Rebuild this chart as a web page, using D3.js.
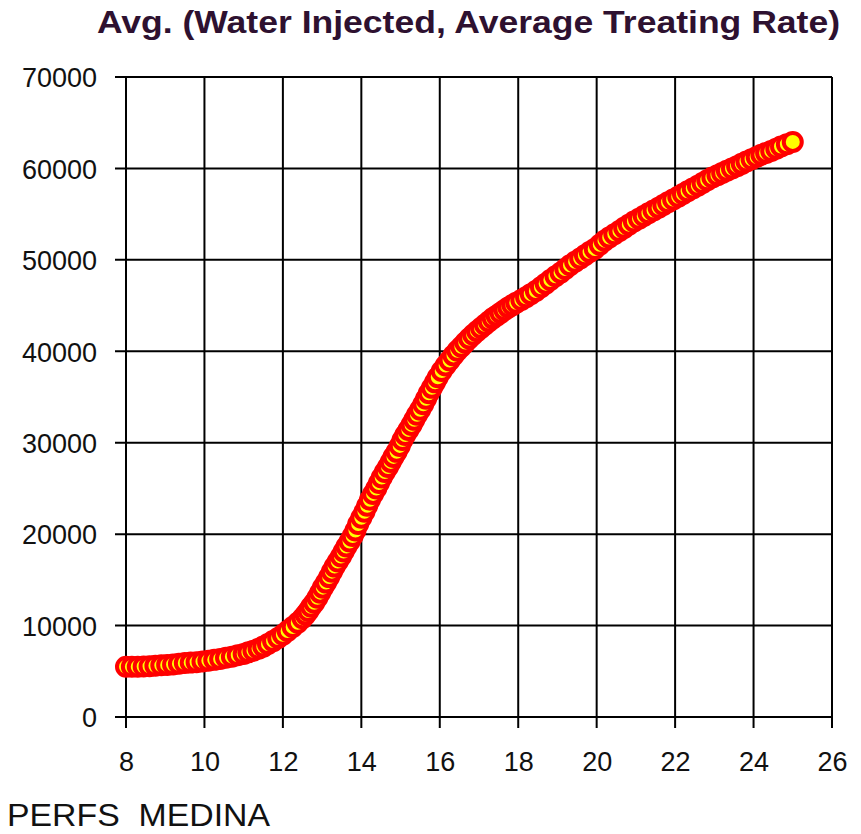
<!DOCTYPE html>
<html>
<head>
<meta charset="utf-8">
<script src="https://cdn.jsdelivr.net/npm/d3@7"></script>
<style>
  body { margin: 0; background: #fff; }
  svg { display: block; }
</style>
</head>
<body>
<div id="chart"></div>
<script>
// Chart data
var titleText = "Avg. (Water Injected, Average Treating Rate)";
var footerText = "PERFS  MEDINA";

var xTicks = [8, 10, 12, 14, 16, 18, 20, 22, 24, 26];
var yTicks = [0, 10000, 20000, 30000, 40000, 50000, 60000, 70000];

var perfX = [
  8.0, 8.15, 8.3, 8.45, 8.6, 8.75, 8.9, 9.05, 9.2, 9.35, 9.5, 9.65, 9.8, 9.95,
  10.1, 10.25, 10.4, 10.55, 10.7, 10.85, 11.0,
  11.12, 11.25, 11.38, 11.5, 11.62, 11.75, 11.88, 12.0, 12.12, 12.25, 12.38, 12.5,
  12.58, 12.65, 12.72, 12.8, 12.88, 12.95, 13.02, 13.1, 13.18, 13.25, 13.32, 13.4,
  13.48, 13.55, 13.62, 13.7, 13.78, 13.85, 13.92, 14.0, 14.08, 14.15, 14.22, 14.3,
  14.38, 14.45, 14.52, 14.6, 14.68, 14.75, 14.82, 14.9, 14.98, 15.05, 15.12, 15.2,
  15.28, 15.35, 15.42, 15.5, 15.58, 15.65, 15.72, 15.8, 15.88, 15.95,
  16.05, 16.15, 16.25, 16.35, 16.45, 16.55, 16.65, 16.75, 16.85, 16.95,
  17.05, 17.15, 17.25, 17.35, 17.45, 17.55, 17.65, 17.75, 17.85, 17.95,
  18.08, 18.2, 18.32, 18.45, 18.58, 18.7, 18.82, 18.95,
  19.08, 19.2, 19.32, 19.45, 19.58, 19.7, 19.82, 19.95,
  20.08, 20.2, 20.32, 20.45, 20.58, 20.7, 20.82, 20.95,
  21.08, 21.2, 21.32, 21.45, 21.58, 21.7, 21.82, 21.95,
  22.08, 22.2, 22.32, 22.45, 22.58, 22.7, 22.82, 22.95,
  23.08, 23.2, 23.32, 23.45, 23.58, 23.7, 23.82, 23.95,
  24.08, 24.2, 24.32, 24.45, 24.58, 24.7, 24.85, 25.0
];
var waterInjected = [
  5500, 5500, 5500, 5520, 5550, 5600, 5650, 5700, 5750, 5820, 5900, 5950, 6000, 6080,
  6150, 6250, 6350, 6470, 6600, 6750, 6900,
  7070, 7250, 7470, 7700, 7990, 8300, 8640, 9000, 9400, 9850, 10300, 10800,
  11200, 11600, 12050, 12500, 13050, 13600, 14150, 14700, 15300, 15900, 16450, 17000,
  17550, 18100, 18650, 19200, 19800, 20400, 21100, 21800, 22450, 23100, 23750, 24400,
  25000, 25600, 26200, 26800, 27350, 27900, 28450, 29000, 29650, 30300, 30850, 31400,
  31950, 32500, 33050, 33600, 34200, 34800, 35400, 36000, 36600, 37150,
  37850, 38450, 39000, 39550, 40050, 40500, 40950, 41400, 41800, 42200,
  42550, 42900, 43250, 43600, 43900, 44200, 44500, 44800, 45050, 45300,
  45600, 45900, 46250, 46600, 47000, 47400, 47800, 48200,
  48600, 49000, 49400, 49800, 50150, 50500, 50850, 51200,
  51650, 52100, 52450, 52800, 53150, 53500, 53850, 54200,
  54500, 54800, 55100, 55400, 55700, 56000, 56300, 56600,
  56900, 57200, 57500, 57800, 58100, 58400, 58700, 59000,
  59250, 59500, 59750, 60000, 60250, 60500, 60750, 61000,
  61250, 61500, 61700, 61900, 62150, 62400, 62650, 62900
];

var points = perfX.map(function(x, i) { return { x: x, y: waterInjected[i] }; });

// Canvas
var W = 861, H = 834;
var margin = { top: 77, right: 29, bottom: 117, left: 126 },
    width = W - margin.left - margin.right,
    height = H - margin.top - margin.bottom;

var svg = d3.select("#chart")
  .append("svg")
    .attr("width", W)
    .attr("height", H);

var g = svg.append("g")
    .attr("transform", "translate(" + margin.left + "," + margin.top + ")");

// Scales
var x = d3.scaleLinear().domain([8, 26]).range([0, width]);
var y = d3.scaleLinear().domain([0, 70000]).range([height, 0]);

// Grid lines (ticks stick out past the axes)
var tickLen = 11;
g.append("g")
  .selectAll("line")
  .data(xTicks)
  .enter().append("line")
    .attr("x1", function(d) { return x(d); })
    .attr("x2", function(d) { return x(d); })
    .attr("y1", 0)
    .attr("y2", height + tickLen)
    .attr("stroke", "#000")
    .attr("stroke-width", 2);

g.append("g")
  .selectAll("line")
  .data(yTicks)
  .enter().append("line")
    .attr("x1", -tickLen)
    .attr("x2", width)
    .attr("y1", function(d) { return y(d); })
    .attr("y2", function(d) { return y(d); })
    .attr("stroke", "#000")
    .attr("stroke-width", 2);

// Axis labels
var xAxis = g.append("g")
  .attr("transform", "translate(0," + height + ")")
  .call(d3.axisBottom(x).tickValues(xTicks).tickSize(0).tickPadding(0).tickFormat(d3.format("d")));
xAxis.select(".domain").remove();
xAxis.selectAll("text")
  .attr("y", 54)
  .attr("dy", 0)
  .style("font-family", "'Liberation Sans', Arial, sans-serif")
  .style("font-size", "27px")
  .attr("fill", "#111");

var yAxis = g.append("g")
  .call(d3.axisLeft(y).tickValues(yTicks).tickSize(0).tickPadding(0).tickFormat(d3.format("d")));
yAxis.select(".domain").remove();
yAxis.selectAll("text")
  .attr("x", -29)
  .attr("dy", "0.36em")
  .style("font-family", "'Liberation Sans', Arial, sans-serif")
  .style("font-size", "27px")
  .attr("fill", "#111");

// Markers
g.append("g")
  .selectAll("circle")
  .data(points)
  .enter().append("circle")
    .attr("cx", function(d) { return x(d.x); })
    .attr("cy", function(d) { return y(d.y); })
    .attr("r", 9)
    .attr("fill", "#ffff00")
    .attr("stroke", "#ff0000")
    .attr("stroke-width", 4);

// Title
svg.append("text")
  .attr("x", 97)
  .attr("y", 33)
  .attr("textLength", 743)
  .attr("lengthAdjust", "spacingAndGlyphs")
  .style("font-family", "'Liberation Sans Narrow', 'Liberation Sans', Arial, sans-serif")
  .style("font-weight", "bold")
  .style("font-size", "31px")
  .attr("fill", "#2e1130")
  .text(titleText);

// Footer
svg.append("text")
  .attr("x", 7)
  .attr("y", 826)
  .attr("xml:space", "preserve")
  .style("white-space", "pre")
  .attr("textLength", 263)
  .attr("lengthAdjust", "spacingAndGlyphs")
  .style("font-family", "'Liberation Sans', Arial, sans-serif")
  .style("font-size", "32px")
  .attr("fill", "#111")
  .text(footerText);
</script>
</body>
</html>
